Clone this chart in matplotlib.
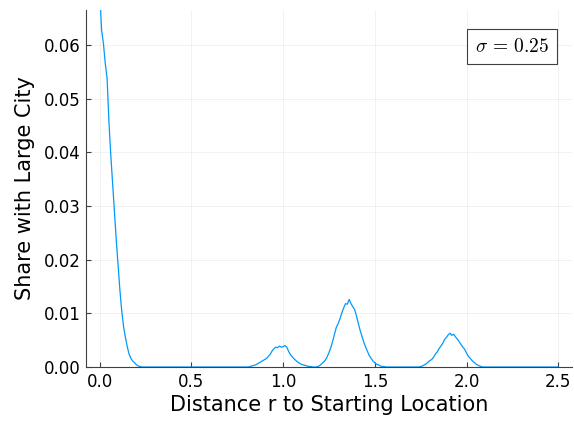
import numpy as np
import matplotlib
matplotlib.use("Agg")
import matplotlib.pyplot as plt

plt.rcParams['mathtext.fontset'] = 'cm'
plt.rcParams['font.family'] = ['DejaVu Sans']

step = 0.01
seg_left = [0.0700, 0.0628, 0.0603, 0.0566, 0.0538, 0.0458, 0.0396, 0.0342, 0.0288, 0.0237,
            0.0190, 0.0143, 0.0104, 0.0075, 0.0055, 0.0038, 0.0024, 0.0016, 0.0011, 0.0008,
            0.0004, 0.0002, 0.0001]
seg_gap1 = [0.0] * 59
seg_peak1 = [0.0001, 0.0002, 0.0003, 0.0004, 0.0006, 0.0008, 0.0010, 0.0012, 0.0014, 0.0016,
             0.0020, 0.0024, 0.0030, 0.0034, 0.0037, 0.0036, 0.0039, 0.0037, 0.0038, 0.0040,
             0.0037, 0.0029, 0.0023, 0.0019, 0.0015, 0.0012, 0.0009, 0.0007, 0.0005, 0.0004,
             0.0003, 0.0002, 0.0001, 0.0001, 0.0000, 0.0000]
seg_peak2 = [0.0000, 0.0001, 0.0003, 0.0006, 0.0009, 0.0013, 0.0019, 0.0027, 0.0036, 0.0048,
             0.0061, 0.0074, 0.0081, 0.0090, 0.0101, 0.0110, 0.0118, 0.0117, 0.0126, 0.0118,
             0.0112, 0.0107, 0.0095, 0.0081, 0.0068, 0.0057, 0.0046, 0.0037, 0.0029, 0.0021,
             0.0016, 0.0011, 0.0008, 0.0005, 0.0004, 0.0002, 0.0001, 0.0001]
seg_gap2 = [0.0] * 18
seg_peak3 = [0.0000, 0.0001, 0.0002, 0.0004, 0.0006, 0.0009, 0.0012, 0.0014, 0.0018, 0.0024,
             0.0028, 0.0034, 0.0039, 0.0044, 0.0051, 0.0055, 0.0060, 0.0063, 0.0059, 0.0061,
             0.0056, 0.0052, 0.0047, 0.0042, 0.0037, 0.0033, 0.0026, 0.0020, 0.0016, 0.0012,
             0.0009, 0.0006, 0.0004, 0.0002, 0.0001]
seg_tail = [0.0] * 42

share = np.array(seg_left + seg_gap1 + seg_peak1 + seg_peak2 + seg_gap2 + seg_peak3 + seg_tail)
distance = np.arange(len(share)) * step

xticks = [0.0, 0.5, 1.0, 1.5, 2.0, 2.5]
yticks = [0.00, 0.01, 0.02, 0.03, 0.04, 0.05, 0.06]

fig = plt.figure(figsize=(5.74, 4.22), dpi=100)
ax = fig.add_axes([0.1498, 0.1303, 0.8467, 0.846])
ax.plot(distance, share, color='#009AFA', lw=0.9)

ax.set_xlim(-0.075, 2.575)
ax.set_ylim(0, 0.0665)
ax.set_xticks(xticks)
ax.set_xticklabels([f"{v:.1f}" for v in xticks])
ax.set_yticks(yticks)
ax.set_yticklabels([f"{v:.2f}" for v in yticks])

for s in ['top', 'right']:
    ax.spines[s].set_visible(False)
for s in ['left', 'bottom']:
    ax.spines[s].set_color('#404040')
    ax.spines[s].set_linewidth(0.8)
ax.tick_params(direction='in', length=3.5, width=0.8, color='#404040', labelsize=12, pad=4)
ax.grid(True, color='black', alpha=0.06, linewidth=0.6)

ax.set_xlabel('Distance r to Starting Location', fontsize=15, labelpad=3)
ax.set_ylabel('Share with Large City', fontsize=15, labelpad=6)

ax.text(0.876, 0.898, r'$\sigma\,=\,0.25$', transform=ax.transAxes, fontsize=14,
        ha='center', va='center',
        bbox=dict(boxstyle='square,pad=0.4', fc='white', ec='#404040', lw=0.8))

fig.savefig('out.png', dpi=100)
